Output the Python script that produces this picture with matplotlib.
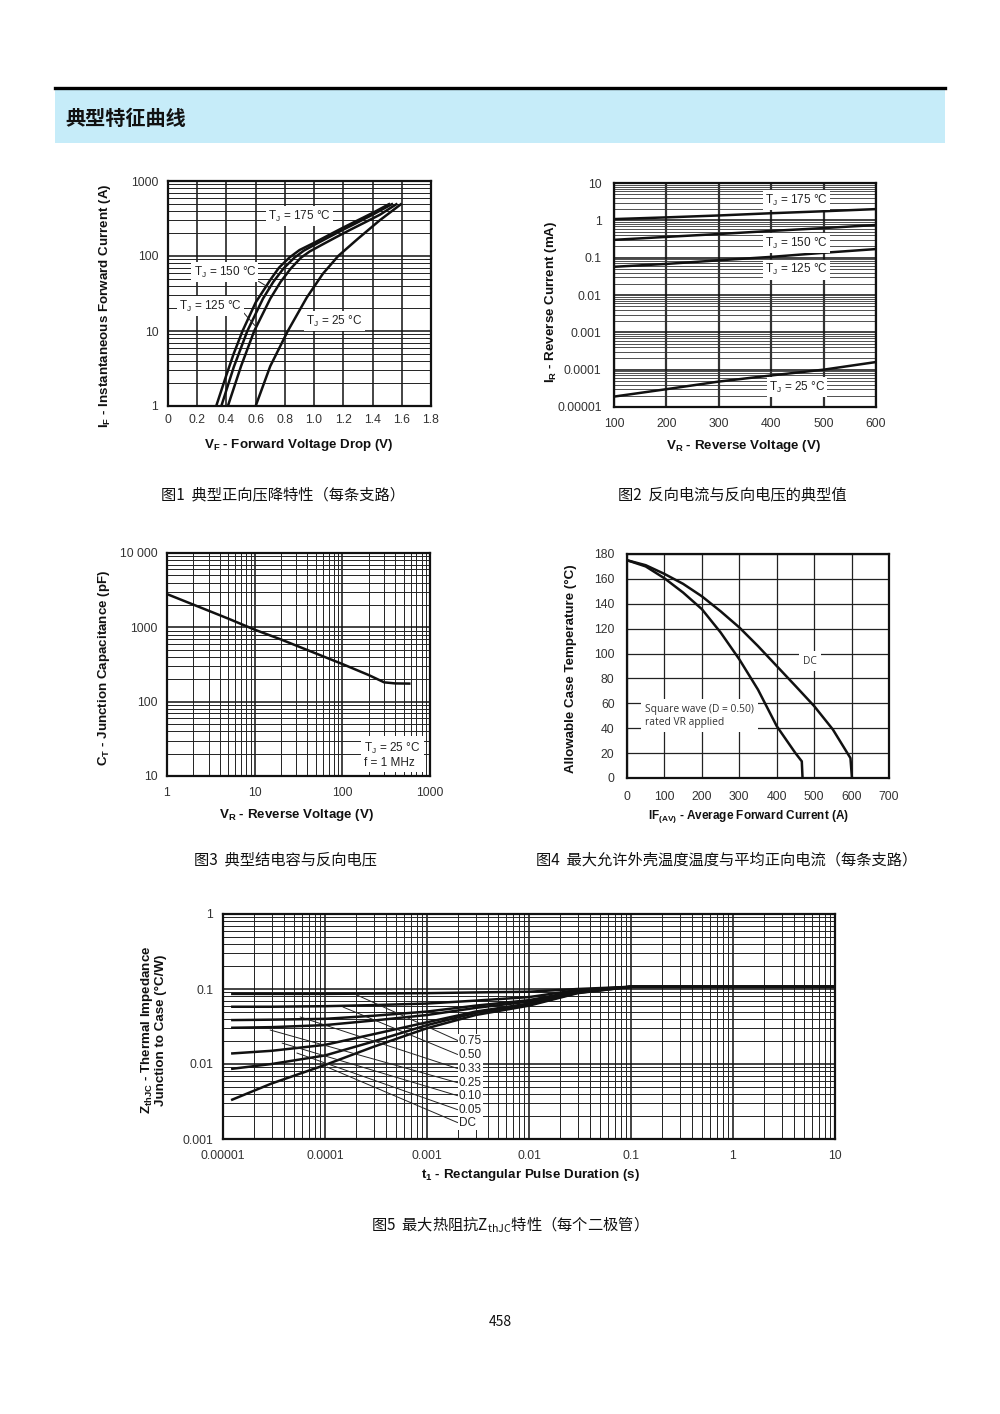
import numpy as np
import matplotlib
matplotlib.use('Agg')
import matplotlib.pyplot as plt
from matplotlib.ticker import LogLocator, NullFormatter, NullLocator
from matplotlib.patches import Rectangle
from matplotlib.lines import Line2D

plt.rcParams['font.family'] = ['Liberation Sans', 'DejaVu Sans']
CJK = ['Noto Sans CJK SC', 'DejaVu Sans']

# ---- Fig 1: forward voltage drop ----
vf_175 = [0.33, 0.40, 0.45, 0.51, 0.60, 0.70, 0.76, 0.83, 0.90, 1.00, 1.10, 1.20, 1.30, 1.40, 1.52]
if_175 = [1, 2.6, 5, 10, 24, 48, 70, 95, 120, 150, 190, 240, 300, 375, 500]
vf_150 = [0.365, 0.45, 0.543, 0.65, 0.72, 0.79, 0.865, 0.93, 1.00, 1.10, 1.20, 1.30, 1.40, 1.54]
if_150 = [1, 3.3, 10, 27, 45, 68, 95, 118, 140, 178, 225, 282, 355, 500]
vf_125 = [0.41, 0.50, 0.59, 0.70, 0.77, 0.84, 0.91, 0.97, 1.05, 1.15, 1.25, 1.35, 1.45, 1.57]
if_125 = [1, 3.4, 10, 27, 45, 68, 95, 115, 140, 178, 225, 282, 355, 500]
vf_25 = [0.60, 0.70, 0.82, 0.95, 1.06, 1.165, 1.30, 1.45, 1.60]
if_25 = [1, 3.4, 10, 28, 58, 100, 170, 300, 500]
f1_xticks = [0, 0.2, 0.4, 0.6, 0.8, 1.0, 1.2, 1.4, 1.6, 1.8]
f1_xlabels = ['0', '0.2', '0.4', '0.6', '0.8', '1.0', '1.2', '1.4', '1.6', '1.8']
f1_yticks = [1, 10, 100, 1000]
f1_ylabels = ['1', '10', '100', '1000']

# ---- Fig 2: reverse current ----
vr = [100, 200, 300, 400, 500, 600]
ir_175 = [1.08, 1.2, 1.35, 1.55, 1.75, 2.0]
ir_150 = [0.30, 0.36, 0.43, 0.52, 0.62, 0.75]
ir_125 = [0.057, 0.068, 0.085, 0.105, 0.135, 0.17]
ir_25 = [1.9e-5, 3.0e-5, 4.8e-5, 7.0e-5, 1.0e-4, 1.6e-4]
f2_yticks = [1e-5, 1e-4, 1e-3, 1e-2, 0.1, 1, 10]
f2_ylabels = ['0.00001', '0.0001', '0.001', '0.01', '0.1', '1', '10']

# ---- Fig 3: junction capacitance ----
vr3 = [1, 2, 5, 10, 20, 50, 100, 200, 300, 400, 600]
ct = [2800, 2020, 1310, 930, 686, 445, 321, 228, 182, 176, 175]
f3_xticks = [1, 10, 100, 1000]
f3_xlabels = ['1', '10', '100', '1000']
f3_yticks = [10, 100, 1000, 10000]
f3_ylabels = ['10', '100', '1000', '10 000']

# ---- Fig 4: allowable case temperature ----
if_sq = [0, 50, 100, 150, 200, 250, 300, 350, 400, 450, 467, 469]
tc_sq = [175, 170, 160.5, 149, 135.7, 117, 95.4, 71, 41.7, 20, 13.4, 0]
if_dc = [0, 50, 100, 150, 200, 250, 300, 350, 400, 450, 500, 550, 597, 601]
tc_dc = [175, 171, 164, 156, 146, 134, 121, 106, 90, 74, 57.8, 39, 16, 0]

# ---- Fig 5: thermal impedance ----
tp = [1.2e-5, 3e-5, 1e-4, 3e-4, 1e-3, 3e-3, 1e-2, 3e-2, 1e-1, 10]
z_dc = [0.0033, 0.0055, 0.0097, 0.017, 0.030, 0.045, 0.060, 0.088, 0.107, 0.107]
z_005 = [0.0086, 0.0100, 0.0130, 0.020, 0.033, 0.048, 0.062, 0.089, 0.107, 0.107]
z_010 = [0.0138, 0.0150, 0.0180, 0.025, 0.036, 0.050, 0.064, 0.091, 0.107, 0.107]
z_025 = [0.0304, 0.0310, 0.0330, 0.038, 0.045, 0.056, 0.068, 0.093, 0.107, 0.107]
z_033 = [0.0385, 0.0390, 0.0400, 0.044, 0.050, 0.060, 0.071, 0.094, 0.107, 0.107]
z_050 = [0.058, 0.058, 0.059, 0.061, 0.064, 0.070, 0.078, 0.097, 0.107, 0.107]
z_075 = [0.086, 0.086, 0.086, 0.087, 0.088, 0.090, 0.092, 0.100, 0.107, 0.107]
duty_names = ['0.75', '0.50', '0.33', '0.25', '0.10', '0.05', 'DC']
f5_xticks = [1e-5, 1e-4, 1e-3, 1e-2, 0.1, 1, 10]
f5_xlabels = ['0.00001', '0.0001', '0.001', '0.01', '0.1', '1', '10']
f5_yticks = [0.001, 0.01, 0.1, 1]
f5_ylabels = ['0.001', '0.01', '0.1', '1']

captions = ['图1  典型正向压降特性（每条支路）',
            '图2  反向电流与反向电压的典型值',
            '图3  典型结电容与反向电压',
            '图4  最大允许外壳温度温度与平均正向电流（每条支路）',
            r'图5  最大热阻抗Z$_\mathregular{thJC}$特性（每个二极管）']

W, H = 1000, 1414
fig = plt.figure(figsize=(10, 14.14), dpi=100)
fig.patch.set_facecolor('white')


def px_axes(l, t, r, b):
    return fig.add_axes([l / W, 1 - b / H, (r - l) / W, (b - t) / H])


def style(ax, ypad=7, xpad=6):
    for s in ax.spines.values():
        s.set_linewidth(1.6)
        s.set_color('#111111')
        s.set_zorder(5)
    ax.tick_params(which='both', length=0, labelsize=8.8, labelcolor='#333333')
    ax.tick_params(axis='y', pad=ypad)
    ax.tick_params(axis='x', pad=xpad)


def log_minor(axis):
    axis.set_minor_locator(LogLocator(base=10, subs=np.arange(2, 10), numticks=30))
    axis.set_minor_formatter(NullFormatter())


def axlabels(ax, xl, xpos, yl, ypos, xsize=9.6):
    ax.text(xpos[0], xpos[1], xl, transform=ax.transAxes, ha='center', va='center',
            fontsize=xsize, fontweight='bold', color='#111111')
    ax.text(ypos[0], ypos[1], yl, transform=ax.transAxes, ha='center', va='center',
            fontsize=9.6, fontweight='bold', color='#111111', rotation=90, linespacing=1.0)


box = dict(facecolor='white', edgecolor='none', pad=1.5)
lbl = dict(fontsize=8.5, color='#222222', zorder=6)
cw = dict(color='#111111', lw=1.8, zorder=4, solid_capstyle='butt', solid_joinstyle='round')

# header
fig.add_artist(Rectangle((55 / W, 1 - 143 / H), 890 / W, 53 / H, transform=fig.transFigure,
                         facecolor='#c6ecf9', edgecolor='none'))
fig.add_artist(Line2D([55 / W, 945 / W], [1 - 88 / H, 1 - 88 / H], transform=fig.transFigure,
                      color='black', lw=2.4))
fig.text(65 / W, 1 - 118 / H, '典型特征曲线', family=CJK, fontsize=14.5, fontweight='bold',
         ha='left', va='center', color='#111111')

# ---- Fig 1 ----
ax1 = px_axes(168, 181, 431, 406)
ax1.set_yscale('log')
ax1.set_xlim(0, 1.8)
ax1.set_ylim(1, 1000)
ax1.set_xticks(f1_xticks, f1_xlabels)
ax1.set_yticks(f1_yticks, f1_ylabels)
log_minor(ax1.yaxis)
ax1.xaxis.set_minor_locator(NullLocator())
ax1.grid(which='major', axis='both', color='#111111', lw=1.1)
ax1.grid(which='minor', axis='y', color='#222222', lw=0.7)
style(ax1)
for v, i in [(vf_175, if_175), (vf_150, if_150), (vf_125, if_125), (vf_25, if_25)]:
    ax1.plot(v, i, **cw)
ax1.text(0.90, 340, r'T$_\mathregular{J}$ = 175 °C', ha='center', va='center', bbox=box, **lbl)
ax1.annotate(r'T$_\mathregular{J}$ = 150 °C', xy=(0.70, 37), xytext=(0.39, 61), ha='center',
             va='center', bbox=box, arrowprops=dict(arrowstyle='-', lw=0.7, color='#222222',
                                                     shrinkA=0, shrinkB=0, relpos=(0.95, 0.1)),
             **lbl)
ax1.annotate(r'T$_\mathregular{J}$ = 125 °C', xy=(0.60, 11.5), xytext=(0.29, 21.5), ha='center',
             va='center', bbox=box, arrowprops=dict(arrowstyle='-', lw=0.7, color='#222222',
                                                     shrinkA=0, shrinkB=0, relpos=(1.0, 0.2)),
             **lbl)
ax1.text(1.14, 13.6, r'T$_\mathregular{J}$ = 25 °C', ha='center', va='center', bbox=box, **lbl)
axlabels(ax1, r'V$_\mathregular{F}$ - Forward Voltage Drop (V)', (0.498, -0.173),
         r'I$_\mathregular{F}$ - Instantaneous Forward Current (A)', (-0.24, 0.445))

# ---- Fig 2 ----
ax2 = px_axes(614, 183, 876, 407)
ax2.set_yscale('log')
ax2.set_xlim(100, 600)
ax2.set_ylim(1e-5, 10)
ax2.set_xticks(vr, [str(v) for v in vr])
ax2.set_yticks(f2_yticks, f2_ylabels)
log_minor(ax2.yaxis)
ax2.grid(which='major', axis='x', color='#333333', lw=1.6)
ax2.grid(which='major', axis='y', color='#111111', lw=1.1)
ax2.grid(which='minor', axis='y', color='#333333', lw=0.6)
style(ax2, ypad=9, xpad=8)
for i in [ir_175, ir_150, ir_125, ir_25]:
    ax2.plot(vr, i, **cw)
for txt, y in [('175', 3.5), ('150', 0.247), ('125', 0.047), ('25', 3.4e-5)]:
    ax2.text(449, y, r'T$_\mathregular{J}$ = ' + txt + ' °C', ha='center', va='center',
             bbox=box, **lbl)
axlabels(ax2, r'V$_\mathregular{R}$ - Reverse Voltage (V)', (0.496, -0.174),
         r'I$_\mathregular{R}$ - Reverse Current (mA)', (-0.24, 0.47))

# ---- Fig 3 ----
ax3 = px_axes(167, 553, 430, 776)
ax3.set_xscale('log')
ax3.set_yscale('log')
ax3.set_xlim(1, 1000)
ax3.set_ylim(10, 10000)
ax3.set_xticks(f3_xticks, f3_xlabels)
ax3.set_yticks(f3_yticks, f3_ylabels)
log_minor(ax3.xaxis)
log_minor(ax3.yaxis)
ax3.grid(which='major', axis='both', color='#111111', lw=1.1)
ax3.grid(which='minor', axis='both', color='#222222', lw=0.7)
style(ax3, xpad=8)
ax3.plot(vr3, ct, **cw)
ax3.text(178, 19.2, 'T$_\\mathregular{J}$ = 25 °C\nf = 1 MHz', ha='left', va='center',
         linespacing=1.1, bbox=dict(facecolor='white', edgecolor='none', pad=2.5), **lbl)
axlabels(ax3, r'V$_\mathregular{R}$ - Reverse Voltage (V)', (0.494, -0.175),
         r'C$_\mathregular{T}$ - Junction Capacitance (pF)', (-0.24, 0.484))

# ---- Fig 4 ----
ax4 = px_axes(627, 554, 889, 778)
ax4.set_xlim(0, 700)
ax4.set_ylim(0, 180)
ax4.set_xticks(range(0, 701, 100))
ax4.set_yticks(range(0, 181, 20))
ax4.grid(which='major', color='#222222', lw=0.9)
style(ax4, ypad=9, xpad=9)
ax4.plot(if_sq, tc_sq, **cw)
ax4.plot(if_dc, tc_dc, **cw)
ax4.text(489, 94, 'DC', ha='center', va='center', family='Open Sans', fontsize=7.4,
         color='#333333', bbox=dict(facecolor='white', edgecolor='none', pad=3), zorder=6)
ax4.text(48, 50, 'Square wave (D = 0.50)\nrated VR applied', ha='left', va='center',
         family='Open Sans', fontsize=7.4, color='#333333', linespacing=1.3,
         bbox=dict(facecolor='white', edgecolor='none', pad=3), zorder=6)
axlabels(ax4, r'IF$_\mathregular{(AV)}$ - Average Forward Current (A)', (0.462, -0.174),
         'Allowable Case Temperature (°C)', (-0.215, 0.49), xsize=8.5)

# ---- Fig 5 ----
ax5 = px_axes(223, 914, 835, 1139)
ax5.set_xscale('log')
ax5.set_yscale('log')
ax5.set_xlim(1e-5, 10)
ax5.set_ylim(0.001, 1)
ax5.set_xticks(f5_xticks, f5_xlabels)
ax5.set_yticks(f5_yticks, f5_ylabels)
log_minor(ax5.xaxis)
log_minor(ax5.yaxis)
ax5.grid(which='major', axis='both', color='#111111', lw=1.1)
ax5.grid(which='minor', axis='both', color='#222222', lw=0.7)
style(ax5, xpad=8)
curves5 = [z_075, z_050, z_033, z_025, z_010, z_005, z_dc]
for z in curves5:
    ax5.plot(tp, z, **cw)
lead_start = [(2.06e-4, 0.083), (1.5e-4, 0.0575), (5.7e-5, 0.0424), (2.9e-5, 0.0284),
              (3.8e-5, 0.019), (5.3e-5, 0.014), (1.05e-4, 0.0091)]
lead_label_y = [0.0203, 0.0132, 0.0086, 0.00558, 0.00374, 0.00243, 0.00163]
for name, start, ly in zip(duty_names, lead_start, lead_label_y):
    ax5.annotate(name, xy=start, xytext=(2.05e-3, ly), ha='left', va='center',
                 bbox=dict(facecolor='white', edgecolor='none', pad=0.8),
                 arrowprops=dict(arrowstyle='-', lw=0.7, color='#222222', shrinkA=0,
                                 shrinkB=0, relpos=(0, 0.5)), **lbl)
axlabels(ax5, r't$_\mathregular{1}$ - Rectangular Pulse Duration (s)', (0.502, -0.16),
         'Z$_\\mathregular{thJC}$ - Thermal Impedance\nJunction to Case (°C/W)', (-0.115, 0.484))

# captions and page number
for txt, (x, y) in zip(captions, [(283, 495), (732, 495), (286, 860), (727, 860), (505, 1225)]):
    fig.text(x / W, 1 - y / H, txt, family=CJK, fontsize=11, ha='center', va='center',
             color='#111111')
fig.text(500 / W, 1 - 1322 / H, '458', family=CJK, fontsize=10, ha='center', va='center',
         color='#111111')

fig.savefig('out.png', dpi=100, facecolor='white')
